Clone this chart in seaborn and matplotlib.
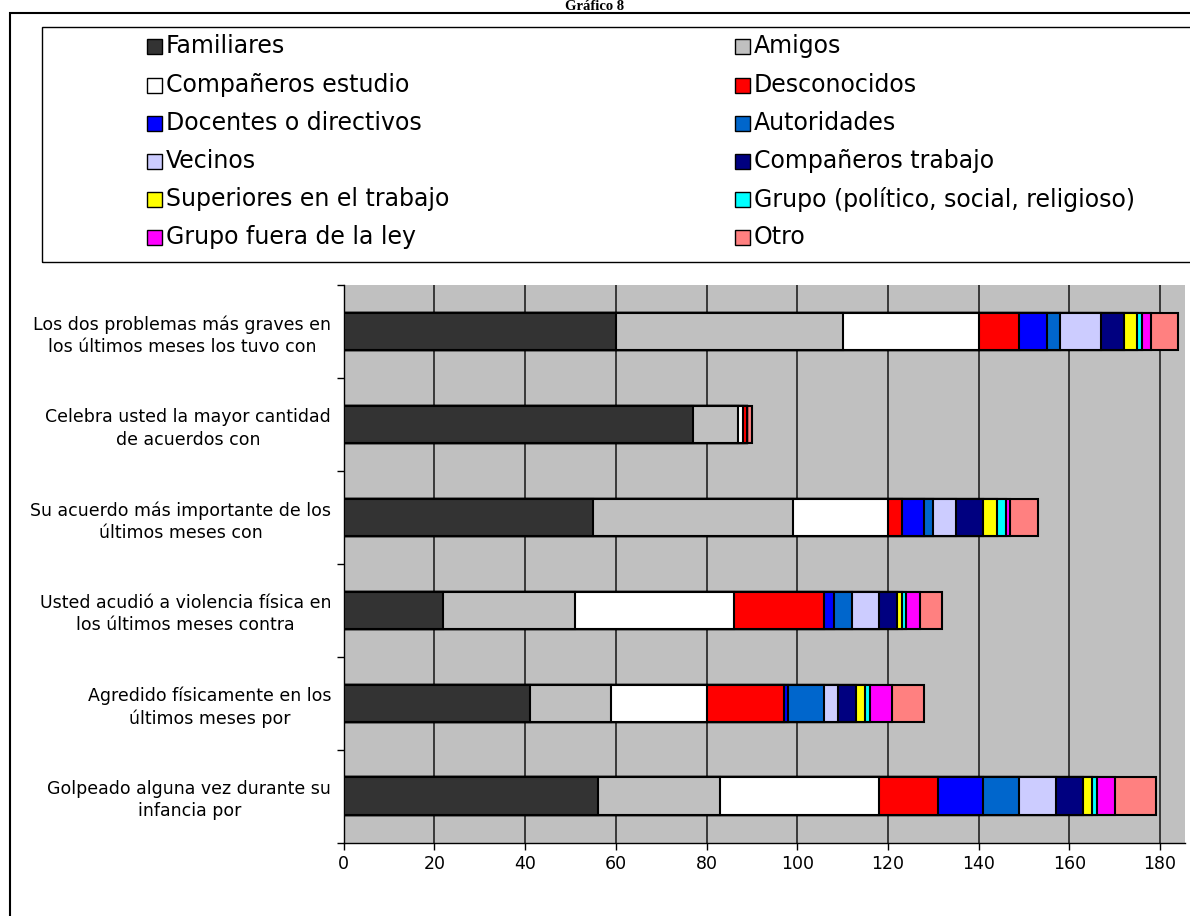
import matplotlib
matplotlib.use("Agg")
import matplotlib.pyplot as plt
import seaborn as sns
import numpy as np
import pandas as pd
from matplotlib.patches import Rectangle

sns.set_theme(style="white")
plt.rcParams['font.family'] = ['DejaVu Sans']
plt.rcParams['text.color'] = 'black'
plt.rcParams['xtick.color'] = 'black'
plt.rcParams['ytick.color'] = 'black'
plt.rcParams['xtick.labelcolor'] = 'black'
plt.rcParams['ytick.labelcolor'] = 'black'

categories = [
    "Los dos problemas más graves en\nlos últimos meses los tuvo con",
    "Celebra usted la mayor cantidad\nde acuerdos con",
    "Su acuerdo más importante de los\núltimos meses con",
    "Usted acudió a violencia física en\nlos últimos meses contra",
    "Agredido físicamente en los\núltimos meses por",
    "Golpeado alguna vez durante su\ninfancia por",
]

series = ["Familiares", "Amigos", "Compañeros estudio", "Desconocidos",
          "Docentes o directivos", "Autoridades", "Vecinos", "Compañeros trabajo",
          "Superiores en el trabajo", "Grupo (político, social, religioso)",
          "Grupo fuera de la ley", "Otro"]

familiares = [60, 77, 55, 22, 41, 56]
amigos = [50, 10, 44, 29, 18, 27]
companeros_estudio = [30, 1, 21, 35, 21, 35]
desconocidos = [9, 1, 3, 20, 17, 13]
docentes = [6, 0, 5, 2, 1, 10]
autoridades = [3, 0, 2, 4, 8, 8]
vecinos = [9, 0, 5, 6, 3, 8]
companeros_trabajo = [5, 0, 6, 4, 4, 6]
superiores = [3, 0, 3, 1, 2, 2]
grupo = [1, 0, 2, 1, 1, 1]
grupo_fuera_ley = [2, 0, 1, 3, 5, 4]
otro = [6, 1, 6, 5, 7, 9]

values = [familiares, amigos, companeros_estudio, desconocidos, docentes,
          autoridades, vecinos, companeros_trabajo, superiores, grupo,
          grupo_fuera_ley, otro]

colors = ["#333333", "#C0C0C0", "#FFFFFF", "#FF0000", "#0000FF", "#0066CC",
          "#CCCCFF", "#000080", "#FFFF00", "#00FFFF", "#FF00FF", "#FF8080"]

xticks = [0, 20, 40, 60, 80, 100, 120, 140, 160, 180]

W, H = 1190, 916
fig = plt.figure(figsize=(W / 100, H / 100), dpi=100)
fig.patch.set_facecolor("white")

def fx(px):
    return px / W

def fy(py):
    return 1 - py / H

# Outer frame
fig.patches.append(Rectangle((fx(10), fy(1000)), fx(1200) - fx(10), fy(13) - fy(1000),
                             transform=fig.transFigure, fill=False,
                             edgecolor="black", linewidth=1.5))
# Title
fig.text(0.5, fy(0.5), "Gráfico 8", ha="center", va="top", fontsize=10.5,
         fontweight="bold", family=["Liberation Serif", "DejaVu Serif"])

# Legend box
fig.patches.append(Rectangle((fx(42), fy(262)), fx(1250) - fx(42), fy(27) - fy(262),
                             transform=fig.transFigure, fill=False,
                             edgecolor="black", linewidth=1.0))
row_y = [46, 85, 123, 161, 199, 237]
for i, (name, col) in enumerate(zip(series, colors)):
    r, c = i // 2, i % 2
    mx = 147 if c == 0 else 735
    y = row_y[r]
    fig.patches.append(Rectangle((fx(mx), fy(y + 8)), fx(15), 15 / H,
                                 transform=fig.transFigure, facecolor=col,
                                 edgecolor="black", linewidth=1.0))
    fig.text(fx(mx + 19), fy(y), name, ha="left", va="center", fontsize=17)

# Plot area
ax = fig.add_axes([fx(343.7), fy(842.5), fx(1185) - fx(343.7), fy(285) - fy(842.5)])
ax.set_facecolor("#C0C0C0")

df = pd.DataFrame({"cat": categories})
cum = np.cumsum(np.array(values), axis=0)
for k in range(len(series) - 1, -1, -1):
    df["v"] = cum[k]
    sns.barplot(data=df, x="v", y="cat", orient="h", color=colors[k],
                saturation=1, width=0.4, edgecolor="black", linewidth=1.5,
                ax=ax, zorder=3)

ax.set_xlim(0, 185.5)
ax.set_ylim(len(categories) - 0.5, -0.5)
ax.set_xticks(xticks)
ax.set_xticklabels([str(t) for t in xticks], fontsize=12.5)
ax.set_yticks(range(len(categories)))
ax.set_yticklabels(categories, fontsize=12.5, linespacing=1.3,
                   multialignment="center")
ax.set_xlabel("")
ax.set_ylabel("")
ax.grid(False)
for t in xticks[1:]:
    ax.axvline(t, color="#222222", linewidth=1.2, zorder=1)

ax.set_yticks(np.arange(-0.5, len(categories), 1.0), minor=True)
ax.tick_params(axis="y", which="major", length=0, pad=9)
ax.tick_params(axis="y", which="minor", length=5, width=1, color="black", direction="out", left=True)
ax.tick_params(axis="x", which="major", length=5, width=1, color="black", direction="out", bottom=True, pad=4)
for s in ["top", "right"]:
    ax.spines[s].set_visible(False)
for s in ["left", "bottom"]:
    ax.spines[s].set_visible(True)
    ax.spines[s].set_color("black")
    ax.spines[s].set_linewidth(1.0)

fig.savefig("out.png", dpi=100)
